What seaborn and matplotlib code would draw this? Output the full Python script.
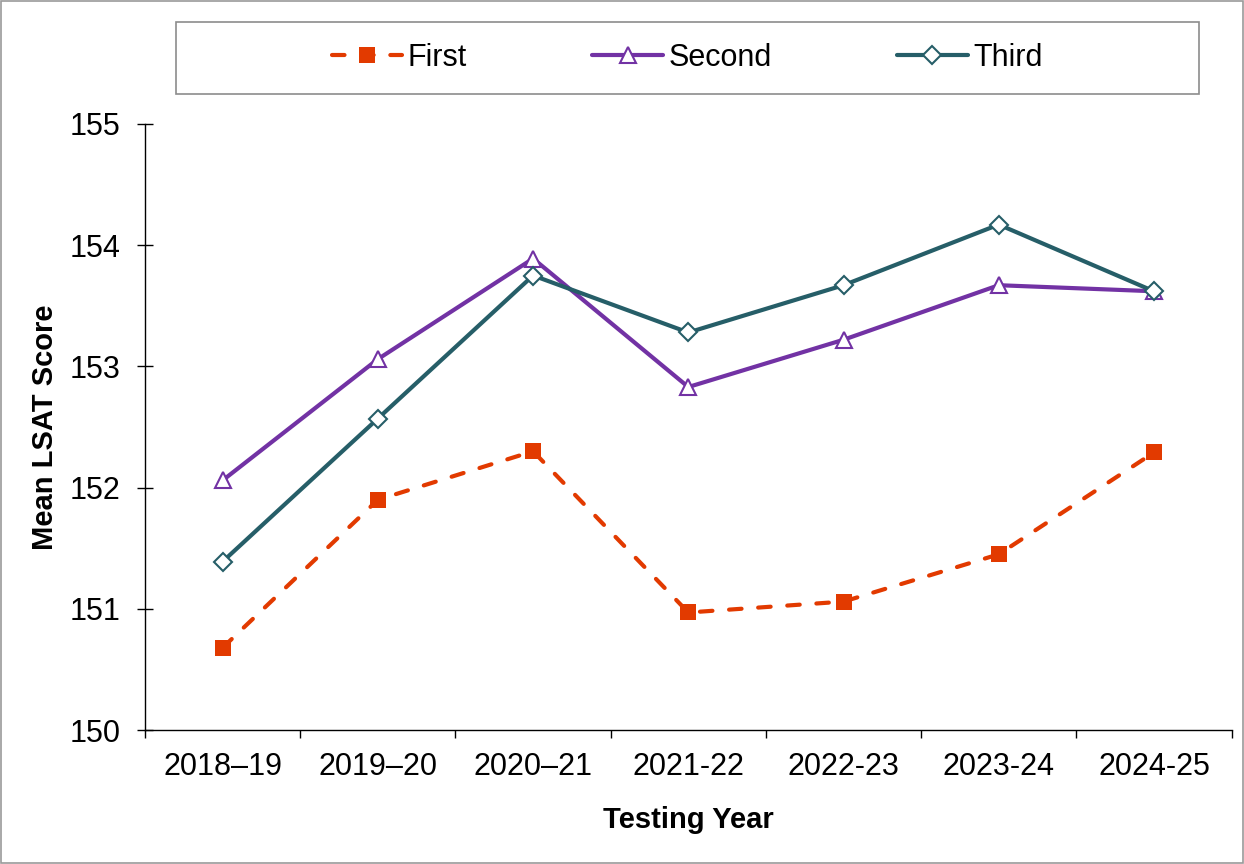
import seaborn as sns
import matplotlib.pyplot as plt
import matplotlib.patches as mpatches
import pandas as pd

years = ['2018–19', '2019–20', '2020–21', '2021-22', '2022-23', '2023-24', '2024-25']
first = [150.68, 151.90, 152.30, 150.97, 151.06, 151.45, 152.29]
second = [152.06, 153.06, 153.89, 152.83, 153.22, 153.67, 153.62]
third = [151.39, 152.57, 153.75, 153.28, 153.67, 154.17, 153.62]

series = ['First', 'Second', 'Third']
colors = {'First': '#E23A00', 'Second': '#7232A4', 'Third': '#265E68'}


def main():
    sns.set_style('white')
    plt.rcParams['font.family'] = ['Liberation Sans', 'DejaVu Sans']
    plt.rcParams['text.color'] = 'black'
    plt.rcParams['axes.labelcolor'] = 'black'
    plt.rcParams['xtick.color'] = 'black'
    plt.rcParams['ytick.color'] = 'black'

    df = pd.DataFrame({'year': years * 3,
                       'score': first + second + third,
                       'group': [s for s in series for _ in years]})

    fig = plt.figure(figsize=(12.44, 8.64), dpi=100)
    ax = fig.add_axes([0.1166, 0.155, 0.8734, 0.7015])

    # First: dashed line with filled squares
    sns.lineplot(data=df[df.group == 'First'], x='year', y='score', ax=ax,
                 color=colors['First'], lw=3, marker='s', markersize=11,
                 markeredgewidth=0, label='First')
    ax.lines[-1].set_dashes((3, 4))
    ax.lines[-1].set_dash_capstyle('round')
    sns.lineplot(data=df[df.group == 'Second'], x='year', y='score', ax=ax,
                 color=colors['Second'], lw=3, marker='^', markersize=11,
                 markerfacecolor='white', markeredgecolor=colors['Second'],
                 markeredgewidth=1.5, label='Second')
    sns.lineplot(data=df[df.group == 'Third'], x='year', y='score', ax=ax,
                 color=colors['Third'], lw=3, marker='D', markersize=9,
                 markerfacecolor='white', markeredgecolor=colors['Third'],
                 markeredgewidth=1.5, label='Third')

    ax.set_xlim(-0.5, len(years) - 0.5)
    ax.set_ylim(150, 155)
    ax.set_yticks([150, 151, 152, 153, 154, 155])
    ax.set_xticks(range(len(years)))
    ax.set_xticklabels(years)
    ax.set_xticks([i - 0.5 for i in range(len(years) + 1)], minor=True)

    ax.tick_params(axis='y', which='major', direction='inout', length=11,
                   width=1, labelsize=22, pad=12, left=True)
    ax.tick_params(axis='x', which='major', length=0, labelsize=22, pad=16)
    ax.tick_params(axis='x', which='minor', direction='out', length=6,
                   width=1, bottom=True)

    for side in ['top', 'right']:
        ax.spines[side].set_visible(False)
    for side in ['left', 'bottom']:
        ax.spines[side].set_color('black')
        ax.spines[side].set_linewidth(1)

    ax.set_xlabel('Testing Year', fontsize=21, fontweight='bold', labelpad=17)
    ax.set_ylabel('Mean LSAT Score', fontsize=21, fontweight='bold', labelpad=8)

    # legend box
    box = (0.1415, 0.891, 0.822, 0.0833)
    fig.add_artist(mpatches.Rectangle(box[:2], box[2], box[3],
                                      transform=fig.transFigure, fill=False,
                                      edgecolor='#8c8c8c', linewidth=1.2))
    ax.legend(loc='center', ncol=3, fontsize=22, frameon=False,
              bbox_to_anchor=box, bbox_transform=fig.transFigure,
              handlelength=2.3, handletextpad=0.2, columnspacing=4.1)

    # outer border
    fig.add_artist(mpatches.Rectangle((0.001, 0.001), 0.998, 0.998,
                                      transform=fig.transFigure, fill=False,
                                      edgecolor='#9a9a9a', linewidth=1.2))

    fig.savefig('out.png', dpi=100)


if __name__ == '__main__':
    main()
